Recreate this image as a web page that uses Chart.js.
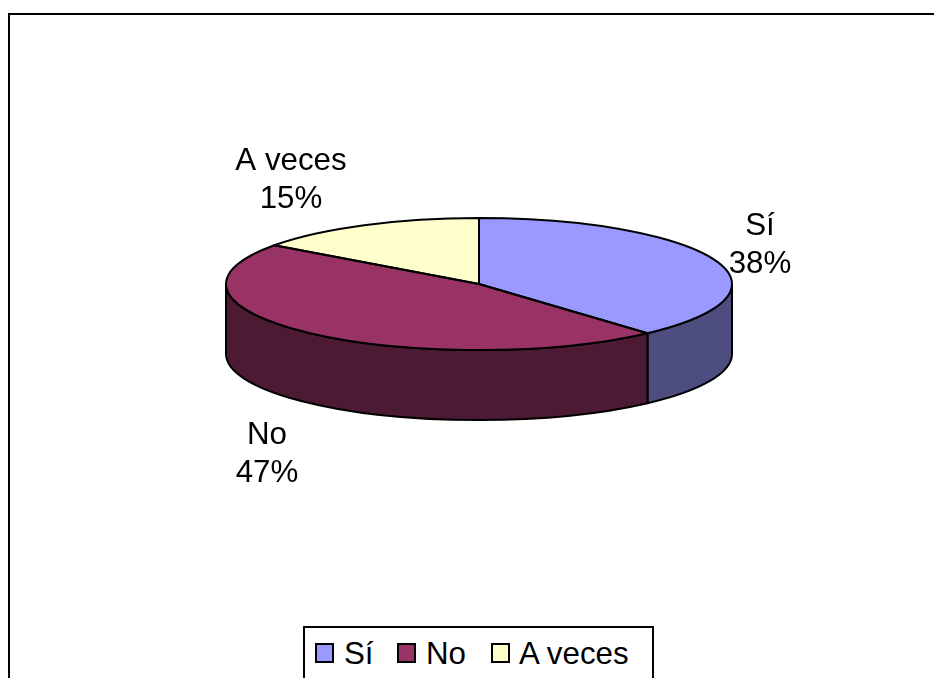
<!DOCTYPE html>
<html lang="es">
<head>
<meta charset="utf-8">
<title>Sí / No / A veces</title>
<script src="https://cdn.jsdelivr.net/npm/chart.js@4/dist/chart.umd.js"></script>
<style>
    html, body { margin: 0; padding: 0; background: #fff; }
    #wrap { position: relative; width: 934px; height: 678px; overflow: hidden; font-family: "Liberation Sans", Arial, sans-serif; }
    #frame { position: absolute; left: 8px; top: 13px; width: 960px; height: 700px; border: 2px solid #000; box-sizing: border-box; }
    canvas { position: absolute; left: 0; top: 0; }
    #legend { position: absolute; left: 303px; top: 626px; width: 351px; height: 70px; box-sizing: border-box; border: 2px solid #000; background: #fff; color: #000; font-size: 31.3px; }
    #legend span { position: absolute; top: 8px; line-height: 36px; white-space: nowrap; }
    #legend i { position: absolute; top: 15px; width: 19px; height: 20px; box-sizing: border-box; border: 2px solid #000; }
</style>
</head>
<body>
<div id="wrap">
    <div id="frame"></div>
    <canvas id="pie" width="934" height="678"></canvas>
    <div id="legend"></div>
</div>
<script>
const categories = ['Sí', 'No', 'A veces'];
const percentages = [38.4, 46.6, 15];
const topColors = ['#9999FF', '#993366', '#FFFFCC'];
const sideColors = ['#4D4D80', '#4D1A33', '#80806A'];

// where each label block is centred, and the legend columns
const labelCentres = [[760, 245], [267, 454], [291, 180]];
const legendSwatchX = [10, 92, 186];
const legendTextX = [39, 121, 214];

// the pie is drawn as a circle by Chart.js, this plugin squashes it to an ellipse and adds the wall
const CENTER_Y = 284, RADIUS_Y = 66, DEPTH = 70;

const pie3d = {
    id: 'pie3d',
    beforeDatasetsDraw(chart) {
        const ctx = chart.ctx;
        const arcs = chart.getDatasetMeta(0).data;
        ctx.save();
        ctx.lineWidth = 2;
        ctx.strokeStyle = '#000';
        ctx.lineJoin = 'round';
        arcs.forEach((arc, i) => {
            const a0 = Math.max(arc.startAngle, 0);
            const a1 = Math.min(arc.endAngle, Math.PI);
            if (a1 <= a0) return;
            const rx = arc.outerRadius;
            ctx.beginPath();
            ctx.ellipse(arc.x, CENTER_Y, rx, RADIUS_Y, 0, a0, a1);
            ctx.ellipse(arc.x, CENTER_Y + DEPTH, rx, RADIUS_Y, 0, a1, a0, true);
            ctx.closePath();
            ctx.fillStyle = sideColors[i];
            ctx.fill();
            ctx.stroke();
        });
        ctx.restore();

        const first = arcs[0];
        ctx.save();
        ctx.translate(0, CENTER_Y);
        ctx.scale(1, RADIUS_Y / first.outerRadius);
        ctx.translate(0, -first.y);
    },
    afterDatasetsDraw(chart) {
        const ctx = chart.ctx;
        ctx.restore();
        ctx.save();
        ctx.lineWidth = 2;
        ctx.strokeStyle = '#000';
        ctx.lineJoin = 'round';
        chart.getDatasetMeta(0).data.forEach(arc => {
            ctx.beginPath();
            ctx.moveTo(arc.x, CENTER_Y);
            ctx.ellipse(arc.x, CENTER_Y, arc.outerRadius, RADIUS_Y, 0, arc.startAngle, arc.endAngle);
            ctx.closePath();
            ctx.stroke();
        });
        ctx.fillStyle = '#000';
        ctx.font = '31.3px "Liberation Sans", Arial, sans-serif';
        ctx.textAlign = 'center';
        ctx.textBaseline = 'middle';
        categories.forEach((name, i) => {
            const [x, y] = labelCentres[i];
            ctx.fillText(name, x, y - 19);
            ctx.fillText(Math.round(percentages[i]) + '%', x, y + 19);
        });
        ctx.restore();
    }
};

const chart = new Chart(document.getElementById('pie'), {
    type: 'pie',
    data: {
        labels: categories,
        datasets: [{
            data: percentages,
            backgroundColor: topColors,
            borderWidth: 0,
            radius: 253
        }]
    },
    options: {
        responsive: false,
        animation: false,
        events: [],
        layout: { padding: { left: 226, right: 202, top: 0, bottom: 100 } },
        plugins: { legend: { display: false }, tooltip: { enabled: false } }
    },
    plugins: [pie3d]
});

// legend box built from the chart's own labels
const legendEl = document.getElementById('legend');
chart.options.plugins.legend.labels.generateLabels(chart).forEach((item, i) => {
    const box = document.createElement('i');
    box.style.left = legendSwatchX[i] + 'px';
    box.style.background = item.fillStyle;
    const text = document.createElement('span');
    text.style.left = legendTextX[i] + 'px';
    text.textContent = item.text;
    legendEl.append(box, text);
});
</script>
</body>
</html>
